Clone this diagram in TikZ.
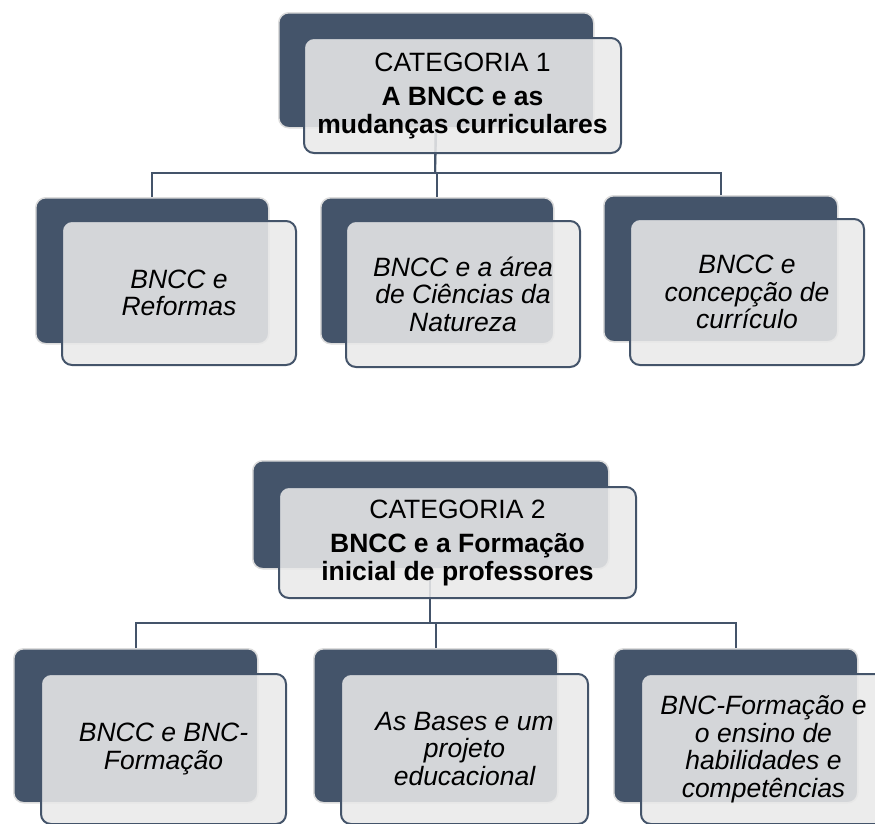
\documentclass[tikz,border=0pt]{standalone}
\usepackage{fontspec}
\setmainfont{Liberation Sans}
\definecolor{navy}{HTML}{44546A}
\definecolor{lite}{HTML}{E9E9E9}
\definecolor{rim}{HTML}{DCDCDC}
\begin{document}
\begin{tikzpicture}[x=1pt,y=-1pt,
  darkbox/.style={rectangle,rounded corners=10pt,fill=navy,draw=rim,line width=1.5pt,anchor=north west,inner sep=0pt},
  litebox/.style={rectangle,rounded corners=10pt,fill=lite,fill opacity=0.88,text opacity=1,draw=navy,draw opacity=1,line width=2pt,anchor=north west,inner sep=0pt,align=center,font=\fontsize{26.5}{27.5}\selectfont},
  conn/.style={draw=navy,line width=2pt}]
\useasboundingbox (0,0) rectangle (875,823);
\clip (0,0) rectangle (875,823);
% junctions
\coordinate (j1) at (435,173);
\coordinate (j2) at (433,623);
% ---- connectors (drawn first)
\coordinate (c1b) at (435.5,127);
\coordinate (c2b) at (430,568);
\draw[conn] (c1b) -- (j1);
\draw[conn] (c2b) |- (j2);
% ---- category 1
\node[darkbox,minimum width=315pt,minimum height=115pt] (c1d) at (278,12) {};
\node[darkbox,minimum width=233pt,minimum height=146pt] (t1d) at (35,197) {};
\node[darkbox,minimum width=233pt,minimum height=146pt] (t2d) at (320,197) {};
\node[darkbox,minimum width=234pt,minimum height=146pt] (t3d) at (603,195) {};
\draw[conn] (t1d.north) |- (j1);
\draw[conn] (t3d.north) |- (j1);
\draw[conn] (t2d.north) |- (j1);
\draw[conn] (c1d.south) -- (j1);
\node[litebox,minimum width=317pt,minimum height=115pt] (c1) at (303,37)
  {CATEGORIA 1\\[7pt]\textbf{A BNCC e as}\\\textbf{mudanças curriculares}};
\node[litebox,minimum width=234pt,minimum height=144pt] (t1) at (61,220)
  {\itshape BNCC e\\\itshape Reformas};
\node[litebox,minimum width=234pt,minimum height=146pt] (t2) at (345,220)
  {\itshape BNCC e a área\\\itshape de Ciências da\\\itshape Natureza};
\node[litebox,minimum width=234pt,minimum height=146pt] (t3) at (629,218)
  {\itshape BNCC e\\\itshape concepção de\\\itshape currículo};
% ---- category 2
\node[darkbox,minimum width=356pt,minimum height=108pt] (c2d) at (252,460) {};
\node[darkbox,minimum width=244pt,minimum height=154pt] (u1d) at (13,648) {};
\node[darkbox,minimum width=244pt,minimum height=154pt] (u2d) at (313,648) {};
\node[darkbox,minimum width=244pt,minimum height=154pt] (u3d) at (613,648) {};
\draw[conn] (u1d.north) |- (j2);
\draw[conn] (u3d.north) |- (j2);
\draw[conn] (u2d.north) |- (j2);
\node[litebox,minimum width=357pt,minimum height=111pt] (c2) at (278,486)
  {CATEGORIA 2\\[7pt]\textbf{BNCC e a Formação}\\\textbf{inicial de professores}};
\node[litebox,minimum width=245pt,minimum height=150pt] (u1) at (40,673)
  {\itshape BNCC e BNC-\\\itshape Formação};
\node[litebox,minimum width=247pt,minimum height=150pt] (u2) at (340,673)
  {\itshape As Bases e um\\\itshape projeto\\\itshape educacional};
\node[litebox,minimum width=245pt,minimum height=150pt] (u3) at (640,673)
  {\itshape BNC-Formação e\\\itshape o ensino de\\\itshape habilidades e\\\itshape competências};
\end{tikzpicture}
\end{document}
